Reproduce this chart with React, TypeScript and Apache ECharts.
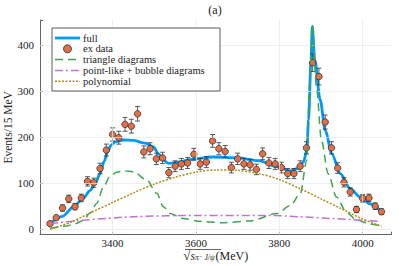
import React, { useEffect, useRef } from "react";
import * as echarts from "echarts";

const energies = [3250,3265,3280,3295,3310,3325,3340,3355,3370,3385,3400,3415,3430,3445,3460,3475,3490,3505,3520,3535,3550,3565,3580,3595,3610,3625,3640,3655,3670,3685,3700,3715,3730,3745,3760,3775,3790,3805,3820,3835,3850,3865,3880,3895,3910,3925,3940,3955,3970,3985,4000,4015,4030,4045];
const counts = [12,25,46,66,49,68,104,101,132,172,206,199,228,224,251,168,175,153,155,123,137,142,144,163,142,146,192,175,169,134,153,142,140,130,164,144,142,134,121,121,137,177,362,332,233,177,133,102,81,43,67,68,50,38];
const errors = [3.5,5,6.8,8.1,7,8.2,10.2,10,11.5,13.1,14.4,14.1,15.1,15,15.8,13,13.2,12.4,12.4,11.1,11.7,11.9,12,12.8,11.9,12.1,13.9,13.2,13,11.6,12.4,11.9,11.8,11.4,12.8,12,11.9,11.6,11,11,11.7,13.3,19,18.2,15.3,13.3,11.5,10.1,9,6.6,8.2,8.2,7.1,6.2];

const fullCurve = [[3250,12],[3280,28],[3306,48],[3330,68],[3346,84],[3360,103],[3370,121],[3380,148],[3388,168],[3396,182],[3406,190],[3426,194],[3450,193],[3478,187],[3498,179],[3510,164],[3522,150],[3534,143],[3558,146],[3590,152],[3640,157],[3700,155],[3750,149],[3794,136],[3826,127],[3845,132],[3858,146],[3866,172],[3870,237],[3876,368],[3879,441],[3885,368],[3898,281],[3910,215],[3926,164],[3946,121],[3970,88],[3994,70],[4018,55],[4046,37]];
const triangleCurve = [[3250,2],[3290,7],[3310,12],[3330,19],[3346,35],[3362,56],[3378,91],[3394,115],[3410,124],[3426,127],[3450,125],[3482,107],[3506,78],[3522,49],[3538,34],[3570,23],[3610,17],[3666,14],[3730,18],[3794,34],[3826,51],[3850,77],[3866,150],[3872,310],[3879,444],[3889,310],[3901,193],[3917,121],[3937,70],[3961,37],[3985,20],[4018,11.5],[4046,6]];
const pointLikeCurve = [[3250,12],[3330,19.5],[3450,27],[3610,30],[3770,30],[3850,27],[3930,23],[4040,17]];
const polynomialCurve = [[3250,0],[3300,15],[3350,37],[3400,58],[3450,79],[3500,98],[3550,113],[3600,124],[3650,129],[3700,128],[3750,121],[3800,108],[3850,88],[3900,66],[3950,44],[4000,22],[4045,6]];

const xTicks = [3400, 3600, 3800, 4000];
const yTicks = [0, 100, 200, 300, 400];
const legendLabels = ["full", "ex data", "triangle diagrams", "point-like + bubble diagrams", "polynomial"];

const FONT = "Liberation Serif, DejaVu Serif, serif";
const C_BLUE = "#009AFA";
const C_ORANGE = "#E36F47";
const C_GREEN = "#3EA44E";
const C_PURPLE = "#C371D2";
const C_GOLD = "#AC8E18";

export default function App() {
  const ref = useRef<HTMLDivElement>(null);
  useEffect(() => {
    const chart = echarts.init(ref.current!, null, { renderer: "svg" });
    const lx = 55, lx2 = 80, tx = 83;
    const rows = [38, 48.8, 59.6, 70.4, 81.2];
    const legendGraphics: any[] = [
      { type: "rect", z: 100, shape: { x: 52, y: 28, width: 168, height: 63 }, style: { fill: "#fff", stroke: "#333", lineWidth: 0.8 } },
      { type: "line", z: 101, shape: { x1: lx, y1: rows[0], x2: lx2, y2: rows[0] }, style: { stroke: C_BLUE, lineWidth: 2.8 } },
      { type: "circle", z: 101, shape: { cx: 67.5, cy: rows[1], r: 4 }, style: { fill: C_ORANGE, stroke: "#222", lineWidth: 0.8 } },
      { type: "line", z: 101, shape: { x1: lx, y1: rows[2], x2: lx2, y2: rows[2] }, style: { stroke: C_GREEN, lineWidth: 1.5, lineDash: [8, 5] } },
      { type: "line", z: 101, shape: { x1: lx, y1: rows[3], x2: lx2, y2: rows[3] }, style: { stroke: C_PURPLE, lineWidth: 1.5, lineDash: [8, 3, 2, 3] } },
      { type: "line", z: 101, shape: { x1: lx, y1: rows[4], x2: lx2, y2: rows[4] }, style: { stroke: C_GOLD, lineWidth: 1.5, lineDash: [2, 1.5] } },
    ];
    legendLabels.forEach((t, i) => {
      legendGraphics.push({ type: "text", z: 101, x: tx, y: rows[i], style: { text: t, fontFamily: FONT, fontSize: 10.5, lineHeight: 10, fill: "#222", verticalAlign: "middle", align: "left" } });
    });
    legendGraphics.push({ type: "text", z: 101, x: 215, y: 10, style: { text: "(a)", fontFamily: FONT, fontSize: 12, fill: "#222", align: "center", verticalAlign: "middle" } });
    legendGraphics.push({ type: "line", z: 101, shape: { x1: 185, y1: 249.5, x2: 221, y2: 249.5 }, style: { stroke: "#222", lineWidth: 0.7 } });

    const gridLineData: any[] = [
      ...yTicks.map((v) => ({ yAxis: v })),
      ...xTicks.map((v) => ({ xAxis: v })),
    ];

    chart.setOption({
      animation: false,
      textStyle: { fontFamily: FONT },
      grid: { left: 40, right: 7.5, top: 20, bottom: 31.3, containLabel: false, outerBoundsMode: "none" },
      xAxis: {
        type: "value",
        min: 3226,
        max: 4069,
        splitNumber: 4,
        axisLine: { show: true, onZero: false, lineStyle: { color: "#666", width: 1 } },
        axisTick: { show: true, inside: true, length: 3, lineStyle: { color: "#666" } },
        splitLine: { show: false },
        axisLabel: {
          color: "#222", fontFamily: FONT, fontSize: 11, margin: 3, lineHeight: 11,
          formatter: (v: number) => (xTicks.includes(v) ? String(v) : ""),
        },
        name: "{rad|√}{s|s}{sub|π⁻ J/ψ}{n|(MeV)}",
        nameLocation: "middle",
        nameGap: 15.5,
        nameMoveOverlap: false,
        nameTextStyle: {
          color: "#222", fontFamily: FONT, lineHeight: 11,
          rich: {
            rad: { fontSize: 13, lineHeight: 11, fontFamily: FONT, color: "#222" },
            s: { fontSize: 11.5, lineHeight: 11, fontStyle: "italic", fontFamily: FONT, color: "#222" },
            sub: { fontSize: 7.5, lineHeight: 11, fontStyle: "italic", fontFamily: FONT, color: "#222", padding: [3, 1, 0, 0] },
            n: { fontSize: 12, lineHeight: 11, fontFamily: FONT, color: "#222" },
          },
        },
      },
      yAxis: {
        type: "value",
        min: -12,
        max: 455,
        splitNumber: 5,
        axisLine: { show: true, onZero: false, lineStyle: { color: "#666", width: 1 } },
        axisTick: { show: true, inside: true, length: 3, lineStyle: { color: "#666" } },
        splitLine: { show: false },
        axisLabel: {
          color: "#222", fontFamily: FONT, fontSize: 11, margin: 6,
          formatter: (v: number) => (yTicks.includes(v) ? String(v) : ""),
        },
        name: "Events/15 MeV",
        nameLocation: "middle",
        nameGap: 26,
        nameMoveOverlap: false,
        nameTextStyle: { color: "#222", fontFamily: FONT, fontSize: 11.5 },
      },
      graphic: legendGraphics,
      series: [
        {
          type: "line", data: [], z: 0, silent: true,
          markLine: { silent: true, symbol: "none", label: { show: false }, lineStyle: { color: "#e8e8e8", width: 0.7, type: "solid" }, data: gridLineData, animation: false },
        },
        { name: "full", type: "line", data: fullCurve, z: 2, showSymbol: false, symbol: "none", smooth: 0.3, smoothMonotone: "x", lineStyle: { color: C_BLUE, width: 2.8 } },
        {
          name: "errbars", type: "custom", z: 3,
          data: energies.map((e, i) => [e, counts[i], errors[i]]),
          encode: { x: 0, y: 1 },
          renderItem: (params: any, api: any) => {
            const x = api.value(0), y = api.value(1), e = api.value(2);
            const t = api.coord([x, y + e]);
            const b = api.coord([x, y - e]);
            const hw = 2.5;
            const st = { stroke: "#333", lineWidth: 0.8 };
            return {
              type: "group",
              children: [
                { type: "line", shape: { x1: t[0], y1: t[1], x2: b[0], y2: b[1] }, style: st },
                { type: "line", shape: { x1: t[0] - hw, y1: t[1], x2: t[0] + hw, y2: t[1] }, style: st },
                { type: "line", shape: { x1: b[0] - hw, y1: b[1], x2: b[0] + hw, y2: b[1] }, style: st },
              ],
            };
          },
        },
        {
          name: "ex data", type: "scatter", z: 4,
          data: energies.map((e, i) => [e, counts[i]]),
          symbolSize: 6.5,
          itemStyle: { color: C_ORANGE, borderColor: "#222", borderWidth: 0.7, opacity: 1 },
        },
        { name: "triangle diagrams", type: "line", data: triangleCurve, z: 5, showSymbol: false, symbol: "none", smooth: 0.3, smoothMonotone: "x", lineStyle: { color: C_GREEN, width: 1.5, type: [8, 5] } },
        { name: "point-like + bubble diagrams", type: "line", data: pointLikeCurve, z: 5, showSymbol: false, symbol: "none", smooth: 0.3, lineStyle: { color: C_PURPLE, width: 1.5, type: [8, 3, 2, 3] } },
        { name: "polynomial", type: "line", data: polynomialCurve, z: 5, showSymbol: false, symbol: "none", smooth: 0.3, lineStyle: { color: C_GOLD, width: 1.5, type: [2, 1.5] } },
      ],
    });
    return () => chart.dispose();
  }, []);
  return <div ref={ref} style={{ position: "fixed", left: 0, top: 0, width: 399, height: 266, background: "#fff" }} />;
}
